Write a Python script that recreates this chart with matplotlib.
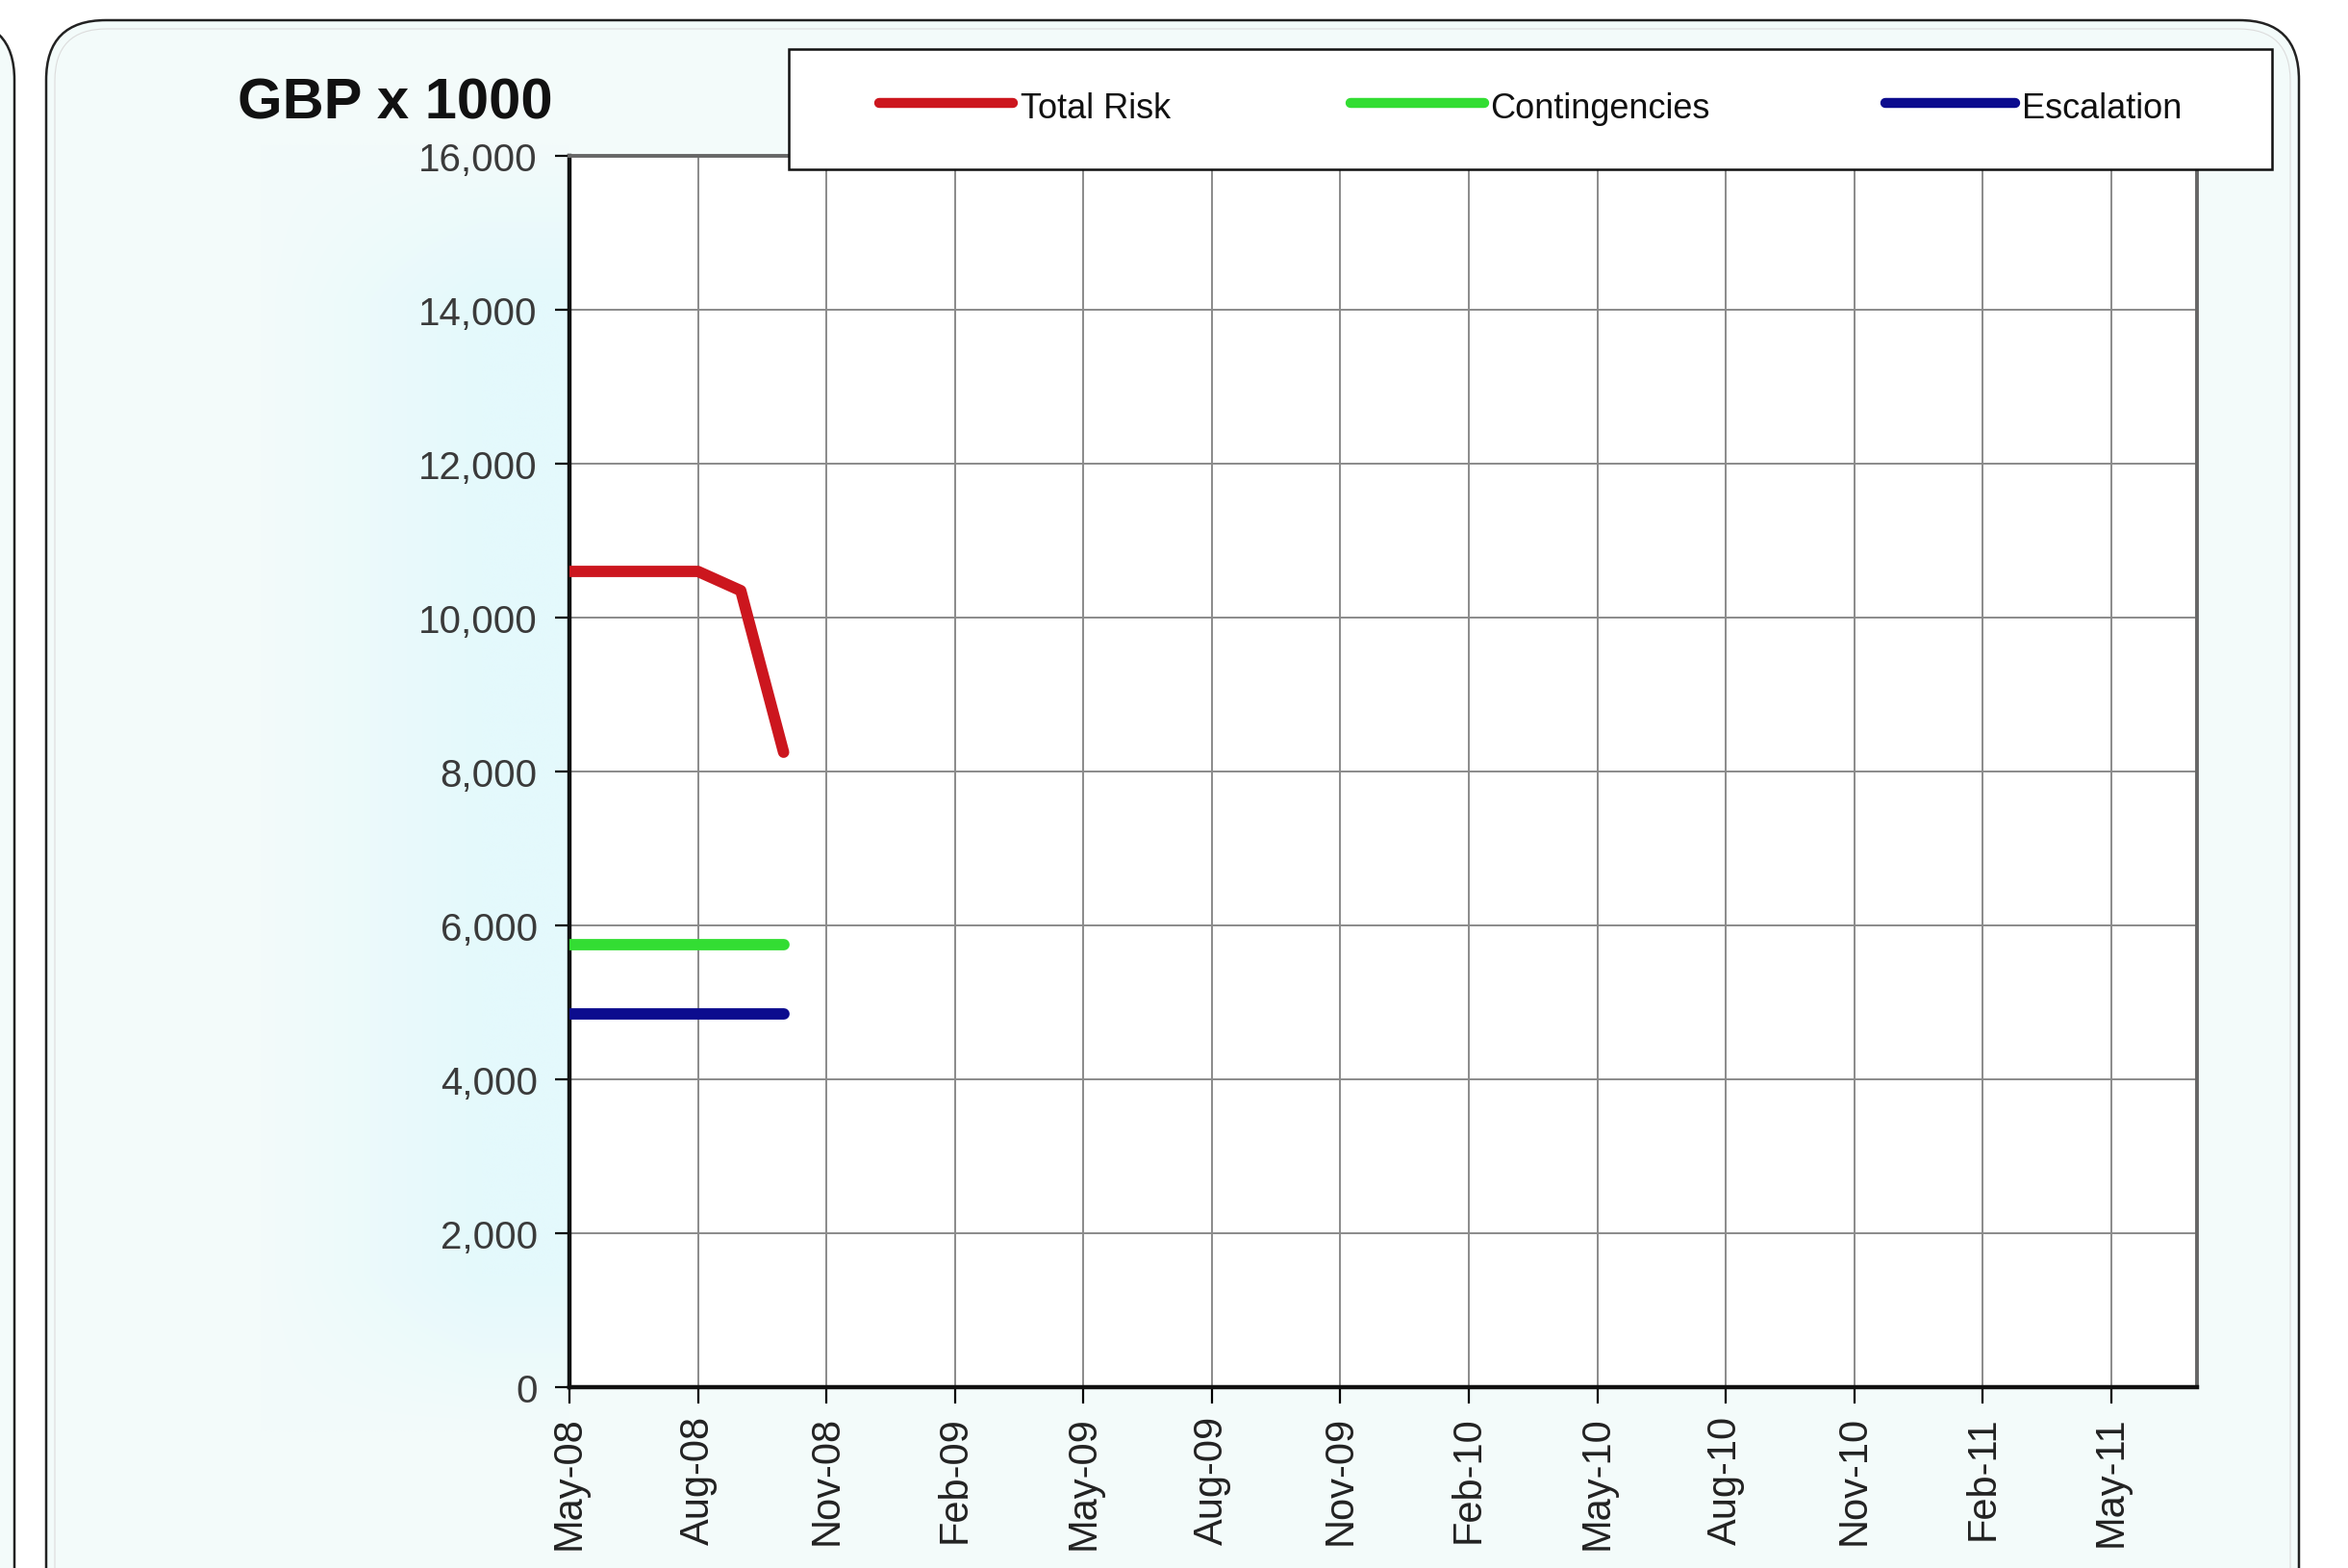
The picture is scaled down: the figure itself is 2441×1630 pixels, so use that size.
import matplotlib
matplotlib.use("Agg")
import matplotlib.pyplot as plt
from matplotlib.patches import FancyBboxPatch, Rectangle
from matplotlib.lines import Line2D
from matplotlib.ticker import FuncFormatter
import numpy as np
from datetime import datetime

# ---------------- data ----------------
months = ["May-08", "Jun-08", "Jul-08", "Aug-08", "Sep-08", "Oct-08"]
total_risk = [10600, 10600, 10600, 10600, 10350, 8250]
contingencies = [5750, 5750, 5750, 5750, 5750, 5750]
escalation = [4850, 4850, 4850, 4850, 4850, 4850]
series_names = ["Total Risk", "Contingencies", "Escalation"]
tick_labels = ["May-08", "Aug-08", "Nov-08", "Feb-09", "May-09", "Aug-09", "Nov-09",
               "Feb-10", "May-10", "Aug-10", "Nov-10", "Feb-11", "May-11"]
y_ticks = [0, 2000, 4000, 6000, 8000, 10000, 12000, 14000, 16000]
title = "GBP x 1000"

# ---------------- helpers ----------------
origin = datetime.strptime("May-08", "%b-%y")


def month_index(lbl):
    d = datetime.strptime(lbl, "%b-%y")
    return (d.year - origin.year) * 12 + (d.month - origin.month)


x_vals = [month_index(m) for m in months]
x_ticks = [month_index(t) for t in tick_labels]

plt.rcParams["font.family"] = ["Liberation Sans", "DejaVu Sans"]

W, H, DPI = 2441, 1631, 100
fig = plt.figure(figsize=(W / DPI, H / DPI), dpi=DPI, facecolor="white")

# ---------------- background (pixel coords) ----------------
bg = fig.add_axes([0, 0, 1, 1], zorder=-10)
bg.axis("off")
fill = "#f3fbfa"
bg.add_patch(FancyBboxPatch((-400, 22), 415, H + 300,
                            boxstyle="round,pad=0,rounding_size=62",
                            fc=fill, ec="#222222", lw=1.8))
bg.add_patch(FancyBboxPatch((48, 22), 2390 - 48, H + 300,
                            boxstyle="round,pad=0,rounding_size=62",
                            fc=fill, ec="#222222", lw=1.8))
bg.add_patch(FancyBboxPatch((57, 31), 2390 - 66, H + 300,
                            boxstyle="round,pad=0,rounding_size=54",
                            fc="none", ec="#dcdcdc", lw=0.8))
# subtle cyan glow behind the value-axis labels
c0 = np.array([0xf3, 0xfb, 0xfa]) / 255
c1 = np.array([0xe4, 0xf9, 0xfc]) / 255
tx = np.linspace(0, 1, 200)
ty = np.linspace(0, 1, 300)
wx = np.clip(tx * 1.4, 0, 1)[None, :]
wy = np.minimum(np.clip(ty / 0.12, 0, 1), np.clip((1 - ty) / 0.12, 0, 1))[:, None]
w = (wx * wy)[:, :, None]
grad = c0 + (c1 - c0) * w
bg.imshow(grad, extent=[270, 592, 1490, 150], aspect="auto",
          interpolation="bilinear", zorder=1)
bg.set_xlim(0, W)
bg.set_ylim(H, 0)

# ---------------- main axes ----------------
ax = fig.add_axes([592 / W, 1 - 1443 / H, (2284 - 592) / W, (1443 - 163) / H])
ax.set_facecolor("white")

colors = ["#cc161e", "#33dd33", "#0c0c8e"]
for name, vals, col in zip(series_names, [total_risk, contingencies, escalation], colors):
    ax.plot(x_vals, vals, color=col, lw=8.5, solid_capstyle="round",
            solid_joinstyle="round", label=name, zorder=3)

ax.set_xlim(0, 38)
ax.set_ylim(0, 16000)
ax.set_xticks(x_ticks)
ax.set_xticklabels(tick_labels, rotation=90, fontsize=30, color="#222222")
ax.set_yticks(y_ticks)
ax.yaxis.set_major_formatter(FuncFormatter(lambda v, p: f"{int(v):,}"))
ax.tick_params(axis="y", labelsize=29, labelcolor="#3a3a3a", length=11,
               width=1.6, pad=13, direction="out")
ax.tick_params(axis="x", length=12, width=1.6, pad=9, direction="out")
ax.grid(True, color="#8a8a8a", lw=1.4, zorder=1)
ax.set_axisbelow(True)
for side in ["left", "bottom"]:
    ax.spines[side].set_color("#111111")
    ax.spines[side].set_linewidth(3.2)
for side in ["top", "right"]:
    ax.spines[side].set_color("#666666")
    ax.spines[side].set_linewidth(2.8)

# ---------------- overlay: title + legend (pixel coords) ----------------
ov = fig.add_axes([0, 0, 1, 1], zorder=10)
ov.set_xlim(0, W)
ov.set_ylim(H, 0)
ov.axis("off")
ov.patch.set_alpha(0)

ov.text(575, 123, title, ha="right", va="baseline", fontsize=43,
        fontweight="bold", color="#111111")

ov.add_patch(Rectangle((820, 52), 2362 - 820, 125, fc="white", ec="#111111", lw=1.8))
handle_x = [(914, 1053), (1404, 1543), (1960, 2095)]
text_x = [1061, 1549, 2102]
for name, col, (hx0, hx1), tx_ in zip(series_names, colors, handle_x, text_x):
    ov.add_line(Line2D([hx0, hx1], [108, 108], color=col, lw=7.5,
                       solid_capstyle="round"))
    ov.text(tx_, 123, name, ha="left", va="baseline", fontsize=26, color="#111111")

fig.savefig("out.png", dpi=DPI, facecolor="white")
